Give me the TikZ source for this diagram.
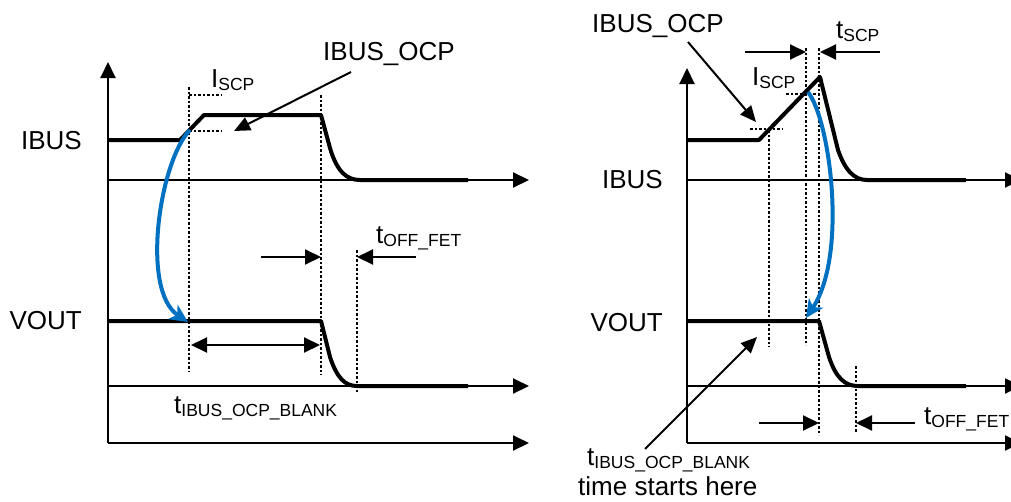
\documentclass[tikz,border=0pt]{standalone}
\usepackage{fontspec}
\setmainfont{Liberation Sans}
\usetikzlibrary{arrows.meta}
\definecolor{curveblue}{HTML}{0070C0}
\newcommand\lsub[2]{#1\raisebox{-3pt}{\fontsize{17.5}{18}\selectfont #2}}
\tikzset{
  axisline/.style={line width=2pt, -{Triangle[length=16pt,width=15pt]}},
  plainline/.style={line width=2pt},
  sig/.style={line width=4pt, line join=round},
  guide/.style={line width=1.8pt, dash pattern=on 2.5pt off 2pt},
  dimarrow/.style={line width=2pt, -{Triangle[length=16pt,width=15pt]}},
  dimboth/.style={line width=2pt, {Triangle[length=16pt,width=15pt]}-{Triangle[length=16pt,width=15pt]}},
  ptr/.style={line width=2pt, -{Triangle[length=16pt,width=14pt]}},
  bluecurve/.style={line width=4pt, draw=curveblue, -{Stealth[length=18pt,width=17pt,inset=5pt]}},
  lbl/.style={inner sep=0pt, font=\fontsize{26}{28}\selectfont},
}
\begin{document}
\begin{tikzpicture}[x=1pt,y=-1pt]
\useasboundingbox (0,0) rectangle (1011,501);

% ================= LEFT PANEL =================
\coordinate (LO) at (108,443);
\coordinate (LT) at (108,62);
\draw[axisline] (LO) -- (LT);
\coordinate (LA1s) at (108,180); \coordinate (LA1e) at (529,180);
\coordinate (LA2s) at (108,386); \coordinate (LA2e) at (529,386);
\coordinate (LA3e) at (529,443);
\draw[axisline] (LA1s) -- (LA1e);
\draw[axisline] (LA2s) -- (LA2e);
\draw[axisline] (LO) -- (LA3e);

% guides
\draw[guide] (189,87) -- (189,372);
\draw[guide] (189,95) -- (222,95);
\draw[guide] (189,131) -- (222,131);
\draw[guide] (321,95) -- (321,375);
\draw[guide] (357,250) -- (357,392);

% signals
\draw[sig] (108,140) -- (180,140) -- (204,115) -- (321,115) -- (330,148)
  .. controls (337,172) and (347,180) .. (360,180) -- (468,180);
\draw[sig] (108,321) -- (321,321) -- (330,357)
  .. controls (337,378) and (345,386) .. (357,386) -- (468,386);

% labels
\node[lbl, anchor=base east] (libus) at (82,149) {IBUS};
\node[lbl, anchor=base east] (lvout) at (82,329) {VOUT};
\node[lbl, anchor=base west] (locp) at (323,60) {IBUS\_OCP};
\node[lbl, anchor=base west] (lscp) at (211,87) {\lsub{I}{SCP}};
\node[lbl, anchor=base west] (loff) at (376,243) {\lsub{t}{OFF\_FET}};
\node[lbl, anchor=base west] (lblank) at (174,413) {\lsub{t}{IBUS\_OCP\_BLANK}};

% pointers
\coordinate (LP1) at (351,72); \coordinate (LP2) at (234,131);
\draw[ptr] (LP1) -- (LP2);
\coordinate (LD1a) at (261,257); \coordinate (LD1b) at (321,257);
\draw[dimarrow] (LD1a) -- (LD1b);
\coordinate (LD2a) at (416,257); \coordinate (LD2b) at (357,257);
\draw[dimarrow] (LD2a) -- (LD2b);
\coordinate (LD3a) at (191,345); \coordinate (LD3b) at (320,345);
\draw[dimboth] (LD3a) -- (LD3b);

% blue curve
\coordinate (LB1) at (190,130); \coordinate (LB2) at (188,322);
\draw[bluecurve] (LB1) .. controls (160,160) and (140,290) .. (LB2);

% ================= RIGHT PANEL =================
\coordinate (RO) at (687,443);
\coordinate (RT) at (687,68);
\draw[axisline] (RO) -- (RT);
\coordinate (RA1s) at (687,180); \coordinate (RA1e) at (1021,180);
\coordinate (RA2s) at (687,386); \coordinate (RA2e) at (1021,386);
\coordinate (RA3e) at (1021,443);
\draw[axisline] (RA1s) -- (RA1e);
\draw[axisline] (RA2s) -- (RA2e);
\draw[axisline] (RO) -- (RA3e);

% guides
\draw[guide] (769,130) -- (769,347);
\draw[guide] (750,129) -- (783,129);
\draw[guide] (806,48) -- (806,345);
\draw[guide] (819,48) -- (819,435);
\draw[guide] (786,94) -- (819,94);
\draw[guide] (856,366) -- (856,433);

% signals
\draw[sig] (687,140) -- (759,140) -- (820,77) -- (838,150)
  .. controls (845,170) and (854,180) .. (867,180) -- (966,180);
\draw[sig] (687,321) -- (819,321) -- (829,357)
  .. controls (836,378) and (845,386) .. (858,386) -- (966,386);

% labels
\node[lbl, anchor=base east] (ribus) at (663,188) {IBUS};
\node[lbl, anchor=base east] (rvout) at (663,331) {VOUT};
\node[lbl, anchor=base west] (rocp) at (592,32) {IBUS\_OCP};
\node[lbl, anchor=base west] (rscp) at (752,85) {\lsub{I}{SCP}};
\node[lbl, anchor=base west] (rtscp) at (836,38) {\lsub{t}{SCP}};
\node[lbl, anchor=base west] (roff) at (924,424) {\lsub{t}{OFF\_FET}};
\node[lbl, anchor=base west] (rblank) at (587,465) {\lsub{t}{IBUS\_OCP\_BLANK}};
\node[lbl, anchor=base west] (rtime) at (578,495) {time starts here};

% pointers
\coordinate (RP1) at (688,42); \coordinate (RP2) at (756,122);
\draw[ptr] (RP1) -- (RP2);
\coordinate (RP3) at (645,449); \coordinate (RP4) at (757,337);
\draw[ptr] (RP3) -- (RP4);
\coordinate (RD1a) at (745,52); \coordinate (RD1b) at (806,52);
\draw[dimarrow] (RD1a) -- (RD1b);
\coordinate (RD2a) at (880,52); \coordinate (RD2b) at (820,52);
\draw[dimarrow] (RD2a) -- (RD2b);
\coordinate (RD3a) at (759,423); \coordinate (RD3b) at (819,423);
\draw[dimarrow] (RD3a) -- (RD3b);
\coordinate (RD4a) at (915,423); \coordinate (RD4b) at (856,423);
\draw[dimarrow] (RD4a) -- (RD4b);

% blue curve
\coordinate (RB1) at (808,92); \coordinate (RB2) at (806,318);
\draw[bluecurve] (RB1) .. controls (830,120) and (848,255) .. (RB2);
\end{tikzpicture}
\end{document}
